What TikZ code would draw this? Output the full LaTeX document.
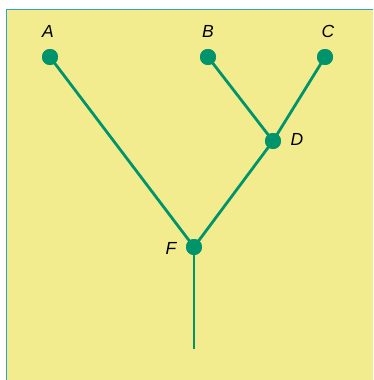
\documentclass[tikz,border=0pt]{standalone}
\usepackage{fontspec}
\setmainfont{Liberation Sans}
\definecolor{paper}{RGB}{243,236,142}
\definecolor{edge}{RGB}{40,168,200}
\definecolor{tree}{RGB}{0,148,108}
\begin{document}
\begin{tikzpicture}[x=1pt,y=-1pt,
  branch/.style={draw=tree,line width=2.8pt},
  leaf/.style={circle,fill=tree,inner sep=0pt,minimum size=16pt},
  tag/.style={font=\fontsize{17.5}{20}\selectfont\itshape,text=black,inner sep=0pt}]
  \useasboundingbox (0,0) rectangle (373,380);
  \fill[paper] (7,10) rectangle (373,380);
  \draw[edge,line width=1.6pt] (6.5,380) -- (6.5,9.5) -- (373,9.5);
  \node[leaf] (A) at (50,57) {};
  \node[leaf] (B) at (208,57) {};
  \node[leaf] (C) at (325,57) {};
  \node[leaf] (D) at (273,141) {};
  \node[leaf] (F) at (194,247) {};
  \coordinate (R) at (194,349);
  \draw[branch] (A.center) -- (F.center);
  \draw[branch] (B.center) -- (D.center);
  \draw[branch] (C.center) -- (D.center);
  \draw[branch] (D.center) -- (F.center);
  \draw[branch] (F.center) -- (R);
  \foreach \n in {A,B,C,D,F} \node[leaf] at (\n) {};
  \node[tag] (lA) at (48,31) {A};
  \node[tag] (lB) at (208,31) {B};
  \node[tag] (lC) at (328,31) {C};
  \node[tag] (lD) at (297,139) {D};
  \node[tag] (lF) at (171,248) {F};
\end{tikzpicture}
\end{document}
